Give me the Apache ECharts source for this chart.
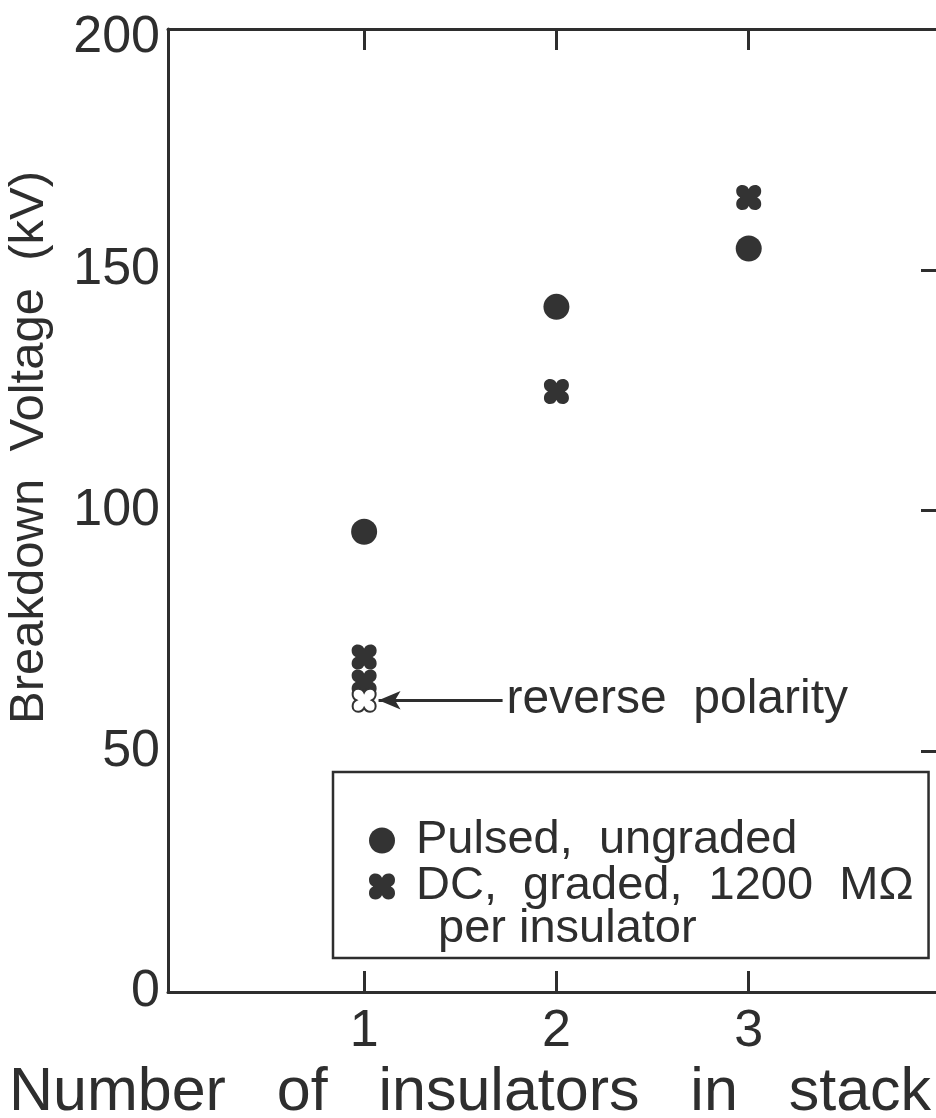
<!DOCTYPE html>
<html>
<head>
<meta charset="utf-8">
<script src="https://cdn.jsdelivr.net/npm/echarts@6/dist/echarts.min.js"></script>
<style>
  html, body { margin: 0; padding: 0; background: #fff; overflow: hidden; }
  #chart { width: 936px; height: 1118px; }
</style>
</head>
<body>
<div id="chart"></div>
<script>
// Breakdown voltage of insulator stacks, pulsed vs DC-graded
const stackCounts = [1, 2, 3];
const yTicks = [0, 50, 100, 150, 200];
const pulsedUngraded = [[1, 95.6], [2, 142.3], [3, 154.4]];
const dcGraded = [[1, 69.6], [1, 64.4], [2, 124.7], [3, 165.0]];
const dcReversePolarity = [[1, 60.6]];
const reverseArrow = { from: [1.72, 60.6], to: [1.075, 60.6] };

const seriesNames = ['Pulsed,  ungraded', 'DC,  graded,  1200  M\u03A9', 'reverse  polarity'];
const legendContinuation = 'per insulator';
const xTitle = 'Number   of   insulators   in   stack';
const yTitle = 'Breakdown  Voltage  (kV)';

const INK = '#2e2e2e';
const MARK = '#333333';
const FONT = '"Liberation Sans", Arial, Helvetica, sans-serif';

// chunky four-lobed cross marker
const CROSS = 'path://M50,16 C44,4 36,0 24,0 C10,0 0,10 0,24 C0,36 4,44 16,50 C4,56 0,64 0,76 C0,90 10,100 24,100 C36,100 44,96 50,84 C56,96 64,100 76,100 C90,100 100,90 100,76 C100,64 96,56 84,50 C96,44 100,36 100,24 C100,10 90,0 76,0 C64,0 56,4 50,16 Z';

const chart = echarts.init(document.getElementById('chart'), null, { renderer: 'canvas' });

const frameLine = { show: true, onZero: false, lineStyle: { color: INK, width: 3 } };

chart.setOption({
  backgroundColor: '#ffffff',
  animation: false,
  textStyle: { fontFamily: FONT, color: INK },
  grid: { left: 168, top: 29, width: 773, height: 963, containLabel: false, outerBoundsMode: 'none' },
  xAxis: [
    {
      type: 'value', position: 'bottom', min: -0.02, max: 4,
      axisLine: frameLine,
      axisTick: { show: true, inside: true, length: 21, lineStyle: { color: INK, width: 3 }, customValues: stackCounts },
      axisLabel: { show: true, customValues: stackCounts, margin: 14, fontSize: 52, color: INK, fontFamily: FONT },
      splitLine: { show: false },
      name: xTitle, nameLocation: 'middle', nameGap: 56,
      nameTextStyle: { fontSize: 61, color: INK, fontFamily: FONT, padding: [0, 169, 0, 0] }
    },
    {
      type: 'value', position: 'top', min: -0.02, max: 4,
      axisLine: frameLine,
      axisTick: { show: true, inside: true, length: 21, lineStyle: { color: INK, width: 3 }, customValues: stackCounts },
      axisLabel: { show: false },
      splitLine: { show: false }
    }
  ],
  yAxis: [
    {
      type: 'value', position: 'left', min: 0, max: 200, interval: 50,
      axisLine: frameLine,
      axisTick: { show: false },
      axisLabel: {
        show: true, margin: 8, fontSize: 52, color: INK, fontFamily: FONT, customValues: yTicks,
        formatter: (v) => (v === 200 ? '{top|' + v + '}' : String(v)),
        rich: { top: { fontSize: 52, color: INK, fontFamily: FONT, padding: [18, 0, 0, 0] } }
      },
      splitLine: { show: false },
      name: yTitle, nameLocation: 'middle', nameGap: 114, nameRotate: 90,
      nameTextStyle: { fontSize: 49, color: INK, fontFamily: FONT, padding: [0, 0, 0, 126] }
    },
    {
      type: 'value', position: 'right', min: 0, max: 200, interval: 50,
      axisLine: frameLine,
      axisTick: { show: true, inside: true, length: 20, lineStyle: { color: INK, width: 3 } },
      axisLabel: { show: false },
      splitLine: { show: false }
    }
  ],
  legend: {
    orient: 'vertical',
    left: 333, top: 772,
    padding: [45, 15, 48, 36],
    itemGap: -1,
    itemWidth: 26, itemHeight: 26,
    borderColor: INK, borderWidth: 2.5,
    selectedMode: false,
    textStyle: { fontSize: 47, lineHeight: 45, color: INK, fontFamily: FONT, padding: [0, 0, 0, 16] },
    data: [
      { name: seriesNames[0], icon: 'circle' },
      { name: seriesNames[1], icon: CROSS }
    ]
  },
  graphic: [
    {
      type: 'text', left: 438, top: 906, z: 100,
      style: { text: legendContinuation, fontSize: 47, fontFamily: FONT, fill: INK }
    }
  ],
  series: [
    {
      name: seriesNames[0], type: 'scatter', xAxisIndex: 0, yAxisIndex: 0,
      symbol: 'circle', symbolSize: 26,
      itemStyle: { color: MARK, opacity: 1 },
      data: pulsedUngraded
    },
    {
      name: seriesNames[1], type: 'scatter', xAxisIndex: 0, yAxisIndex: 0,
      symbol: CROSS, symbolSize: 25,
      itemStyle: { color: MARK, opacity: 1 },
      data: dcGraded
    },
    {
      name: seriesNames[2], type: 'scatter', xAxisIndex: 0, yAxisIndex: 0,
      symbol: CROSS, symbolSize: 23,
      itemStyle: { color: '#ffffff', borderColor: MARK, borderWidth: 2, opacity: 1 },
      data: dcReversePolarity,
      markLine: {
        silent: true,
        symbol: ['none', 'arrow'],
        symbolSize: [14, 22],
        lineStyle: { color: INK, width: 3, type: 'solid' },
        label: {
          show: true, position: 'start', distance: 4,
          formatter: seriesNames[2], fontSize: 48, color: INK, fontFamily: FONT
        },
        data: [[{ coord: reverseArrow.from }, { coord: reverseArrow.to }]]
      }
    }
  ]
});
</script>
</body>
</html>
